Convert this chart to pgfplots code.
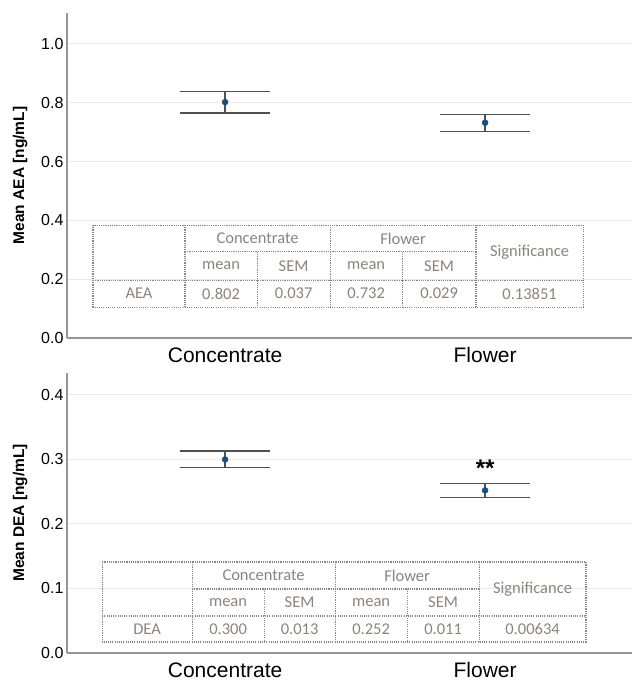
\documentclass[border=0pt]{standalone}
\usepackage{fontspec}
\setmainfont{Liberation Sans}
\newfontfamily\tabfont{Carlito}
\usepackage{pgfplots}
\pgfplotsset{compat=1.18}
\definecolor{axgray}{RGB}{150,150,150}
\definecolor{gridgray}{RGB}{234,234,234}
\definecolor{barcol}{RGB}{80,80,80}
\definecolor{markblue}{RGB}{24,78,128}
\definecolor{tabtext}{RGB}{140,132,124}
\definecolor{tabline}{RGB}{135,135,135}
\tikzset{tabl/.style={tabline, line width=1.1pt, dash pattern=on 1.1pt off 1.1pt},
  tabt/.style={font=\tabfont\fontsize{16.5}{16.5}\selectfont, text=tabtext, anchor=center, inner sep=0pt}}
\pgfplotsset{
  panel/.style={
    scale only axis, width=565pt, clip=false,
    axis lines*=left, axis line style={axgray, line width=1.3pt, -},
    major tick length=0pt,
    xtick={0,1}, xticklabels={Concentrate,Flower},
    xmin=-0.608, xmax=1.565, ymin=0,
    ymajorgrids, grid style={gridgray, line width=1pt},
    yticklabel style={font=\fontsize{16}{16}\selectfont, /pgf/number format/.cd, fixed, fixed zerofill, precision=1, assume math mode=true},
    xticklabel style={font=\fontsize{21}{21}\selectfont, yshift=-6pt},
    ylabel style={font=\bfseries\fontsize{15.5}{16}\selectfont, at={(axis description cs:-0.083,0.5)}, anchor=center},
  },
  ebar/.style={only marks, mark=*, mark size=3pt, mark options={fill=markblue, draw=markblue},
    error bars/.cd, y dir=both, y explicit,
    error bar style={barcol, line width=1.3pt},
    error mark=-, error mark options={barcol, line width=1.3pt, mark size=45pt, rotate=90}},
}
\begin{document}
\begin{tikzpicture}
\path[use as bounding box] (0,0) rectangle (632pt,682pt);
% top panel
\begin{axis}[panel, at={(67pt,344pt)}, anchor=south west, height=325pt,
  ymax=1.105, ytick={0,0.2,0.4,0.6,0.8,1.0}, ylabel={Mean AEA [ng/mL]}]
\addplot[ebar] coordinates {(0,0.802) +- (0,0.037) (1,0.732) +- (0,0.029)};
% table
\draw[tabl] (axis cs:-0.508,0.384) rectangle (axis cs:1.377,0.105);
\draw[tabl] (axis cs:-0.154,0.384) -- (axis cs:-0.154,0.105);
\draw[tabl] (axis cs:0.404,0.384) -- (axis cs:0.404,0.105);
\draw[tabl] (axis cs:0.965,0.384) -- (axis cs:0.965,0.105);
\draw[tabl] (axis cs:0.123,0.293) -- (axis cs:0.123,0.105);
\draw[tabl] (axis cs:0.681,0.293) -- (axis cs:0.681,0.105);
\draw[tabl] (axis cs:-0.154,0.293) -- (axis cs:0.965,0.293);
\draw[tabl] (axis cs:-0.508,0.197) -- (axis cs:1.377,0.197);
\node[tabt] at (axis cs:0.125,0.3385) {Concentrate};
\node[tabt] at (axis cs:0.6845,0.3385) {Flower};
\node[tabt] at (axis cs:1.171,0.2905) {Significance};
\node[tabt] at (axis cs:-0.0155,0.245) {mean};
\node[tabt] at (axis cs:0.2635,0.245) {SEM};
\node[tabt] at (axis cs:0.5425,0.245) {mean};
\node[tabt] at (axis cs:0.823,0.245) {SEM};
\node[tabt] at (axis cs:-0.331,0.151) {AEA};
\node[tabt] at (axis cs:-0.0155,0.151) {0.802};
\node[tabt] at (axis cs:0.2635,0.151) {0.037};
\node[tabt] at (axis cs:0.5425,0.151) {0.732};
\node[tabt] at (axis cs:0.823,0.151) {0.029};
\node[tabt] at (axis cs:1.171,0.151) {0.13851};
\end{axis}
% bottom panel
\begin{axis}[panel, at={(67pt,29pt)}, anchor=south west, height=280pt,
  ymax=0.434, ytick={0,0.1,0.2,0.3,0.4}, ylabel={Mean DEA [ng/mL]}]
\addplot[ebar] coordinates {(0,0.300) +- (0,0.013) (1,0.252) +- (0,0.011)};
\node[font=\bfseries\fontsize{24}{24}\selectfont, anchor=center] at (axis cs:1,0.286) {**};
% table
\draw[tabl] (axis cs:-0.473,0.141) rectangle (axis cs:1.388,0.0171);
\draw[tabl] (axis cs:-0.127,0.141) -- (axis cs:-0.127,0.0171);
\draw[tabl] (axis cs:0.423,0.141) -- (axis cs:0.423,0.0171);
\draw[tabl] (axis cs:0.977,0.141) -- (axis cs:0.977,0.0171);
\draw[tabl] (axis cs:0.150,0.0992) -- (axis cs:0.150,0.0171);
\draw[tabl] (axis cs:0.700,0.0992) -- (axis cs:0.700,0.0171);
\draw[tabl] (axis cs:-0.127,0.0992) -- (axis cs:0.977,0.0992);
\draw[tabl] (axis cs:-0.473,0.0574) -- (axis cs:1.388,0.0574);
\node[tabt] at (axis cs:0.148,0.1201) {Concentrate};
\node[tabt] at (axis cs:0.700,0.1201) {Flower};
\node[tabt] at (axis cs:1.1825,0.0992) {Significance};
\node[tabt] at (axis cs:0.0115,0.0783) {mean};
\node[tabt] at (axis cs:0.2865,0.0783) {SEM};
\node[tabt] at (axis cs:0.5615,0.0783) {mean};
\node[tabt] at (axis cs:0.8385,0.0783) {SEM};
\node[tabt] at (axis cs:-0.300,0.0372) {DEA};
\node[tabt] at (axis cs:0.0115,0.0372) {0.300};
\node[tabt] at (axis cs:0.2865,0.0372) {0.013};
\node[tabt] at (axis cs:0.5615,0.0372) {0.252};
\node[tabt] at (axis cs:0.8385,0.0372) {0.011};
\node[tabt] at (axis cs:1.1825,0.0372) {0.00634};
\end{axis}
\end{tikzpicture}
\end{document}
